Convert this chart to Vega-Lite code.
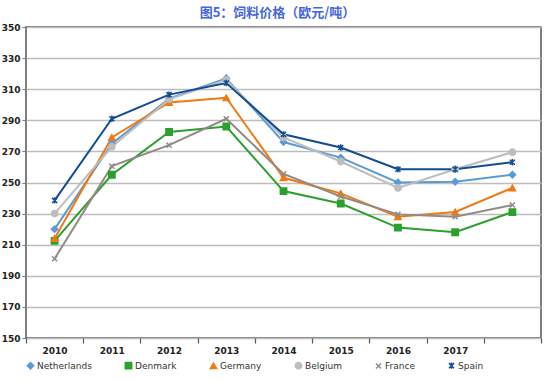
{
  "$schema": "https://vega.github.io/schema/vega-lite/v6.json",
  "width": 515,
  "height": 311,
  "autosize": "none",
  "padding": {"left": 26, "top": 27, "right": 13, "bottom": 42},
  "title": {"text": "图5：饲料价格（欧元/吨）", "font": "Noto Sans CJK SC", "fontSize": 13, "fontWeight": "bold", "color": "#4466DD", "offset": 3, "dx": -6},
  "config": {"view": {"stroke": "#555555", "strokeWidth": 1.5}, "font": "DejaVu Sans"},
  "data": {"values": [
    {"year": "2010", "country": "Netherlands", "value": 220},
    {"year": "2011", "country": "Netherlands", "value": 275},
    {"year": "2012", "country": "Netherlands", "value": 304},
    {"year": "2013", "country": "Netherlands", "value": 317},
    {"year": "2014", "country": "Netherlands", "value": 276},
    {"year": "2015", "country": "Netherlands", "value": 266},
    {"year": "2016", "country": "Netherlands", "value": 250},
    {"year": "2017", "country": "Netherlands", "value": 250.5},
    {"year": "2018", "country": "Netherlands", "value": 255},
    {"year": "2010", "country": "Denmark", "value": 212.5},
    {"year": "2011", "country": "Denmark", "value": 255},
    {"year": "2012", "country": "Denmark", "value": 282.5},
    {"year": "2013", "country": "Denmark", "value": 286},
    {"year": "2014", "country": "Denmark", "value": 244.5},
    {"year": "2015", "country": "Denmark", "value": 236.5},
    {"year": "2016", "country": "Denmark", "value": 221},
    {"year": "2017", "country": "Denmark", "value": 218},
    {"year": "2018", "country": "Denmark", "value": 231},
    {"year": "2010", "country": "Germany", "value": 214},
    {"year": "2011", "country": "Germany", "value": 279},
    {"year": "2012", "country": "Germany", "value": 301.5},
    {"year": "2013", "country": "Germany", "value": 304.5},
    {"year": "2014", "country": "Germany", "value": 253},
    {"year": "2015", "country": "Germany", "value": 243},
    {"year": "2016", "country": "Germany", "value": 228},
    {"year": "2017", "country": "Germany", "value": 231},
    {"year": "2018", "country": "Germany", "value": 246.5},
    {"year": "2010", "country": "Belgium", "value": 230},
    {"year": "2011", "country": "Belgium", "value": 273},
    {"year": "2012", "country": "Belgium", "value": 303.5},
    {"year": "2013", "country": "Belgium", "value": 316},
    {"year": "2014", "country": "Belgium", "value": 279},
    {"year": "2015", "country": "Belgium", "value": 263.5},
    {"year": "2016", "country": "Belgium", "value": 246.5},
    {"year": "2017", "country": "Belgium", "value": 258.5},
    {"year": "2018", "country": "Belgium", "value": 269.5},
    {"year": "2010", "country": "France", "value": 201},
    {"year": "2011", "country": "France", "value": 260.5},
    {"year": "2012", "country": "France", "value": 274},
    {"year": "2013", "country": "France", "value": 291},
    {"year": "2014", "country": "France", "value": 255.5},
    {"year": "2015", "country": "France", "value": 241},
    {"year": "2016", "country": "France", "value": 229.5},
    {"year": "2017", "country": "France", "value": 228},
    {"year": "2018", "country": "France", "value": 235.5},
    {"year": "2010", "country": "Spain", "value": 238.5},
    {"year": "2011", "country": "Spain", "value": 291},
    {"year": "2012", "country": "Spain", "value": 306.5},
    {"year": "2013", "country": "Spain", "value": 314},
    {"year": "2014", "country": "Spain", "value": 281},
    {"year": "2015", "country": "Spain", "value": 272.5},
    {"year": "2016", "country": "Spain", "value": 258.5},
    {"year": "2017", "country": "Spain", "value": 258.5},
    {"year": "2018", "country": "Spain", "value": 263}
  ]},
  "encoding": {
    "x": {"field": "year", "type": "ordinal", "scale": {"paddingInner": 0, "paddingOuter": 0},
      "axis": {"title": null, "labelAngle": 0, "labelFontSize": 9, "labelColor": "#222222", "labelFontWeight": "bold", "tickBand": "extent", "tickSize": 5, "tickColor": "#555555", "tickWidth": 1.2, "domain": false, "labelPadding": 3,
        "labelExpr": "datum.value == '2018' ? '' : datum.value"}},
    "y": {"field": "value", "type": "quantitative", "scale": {"domain": [150, 350], "nice": false, "zero": false},
      "axis": {"title": null, "values": [150, 170, 190, 210, 230, 250, 270, 290, 310, 330, 350], "labelFontSize": 9, "labelColor": "#222222", "labelFontWeight": "bold", "gridColor": "#BDBDBD", "gridWidth": 1.5, "tickSize": 4, "tickColor": "#777777", "domain": false, "labelPadding": 2}},
    "color": {"field": "country", "type": "nominal",
      "scale": {"domain": ["Netherlands", "Denmark", "Germany", "Belgium", "France", "Spain"], "range": ["#5B9BD5", "#2CA02C", "#F07A12", "#BDBDBD", "#938A86", "#124C94"]},
      "legend": {"title": null, "orient": "bottom", "direction": "horizontal", "labelFontSize": 9, "labelColor": "#333333", "labelFontWeight": "normal", "symbolSize": 40, "columnPadding": 30, "offset": 6, "labelOffset": 2}}
  },
  "layer": [
    {"mark": {"type": "line", "strokeWidth": 2}},
    {"mark": {"type": "point", "filled": true, "size": 40, "strokeWidth": 1.5, "opacity": 1},
      "encoding": {
        "shape": {"field": "country", "type": "nominal",
          "scale": {"domain": ["Netherlands", "Denmark", "Germany", "Belgium", "France", "Spain"], "range": ["diamond", "square", "triangle-up", "circle", "M-0.8,-0.8L0.8,0.8M-0.8,0.8L0.8,-0.8", "M-0.8,-0.8L0.8,0.8M-0.8,0.8L0.8,-0.8M0,-1L0,1"]},
          "legend": {"title": null}},
        "stroke": {"field": "country", "type": "nominal",
          "scale": {"domain": ["Netherlands", "Denmark", "Germany", "Belgium", "France", "Spain"], "range": ["#5B9BD5", "#2CA02C", "#F07A12", "#BDBDBD", "#938A86", "#124C94"]},
          "legend": {"title": null}}
      }}
  ]
}
